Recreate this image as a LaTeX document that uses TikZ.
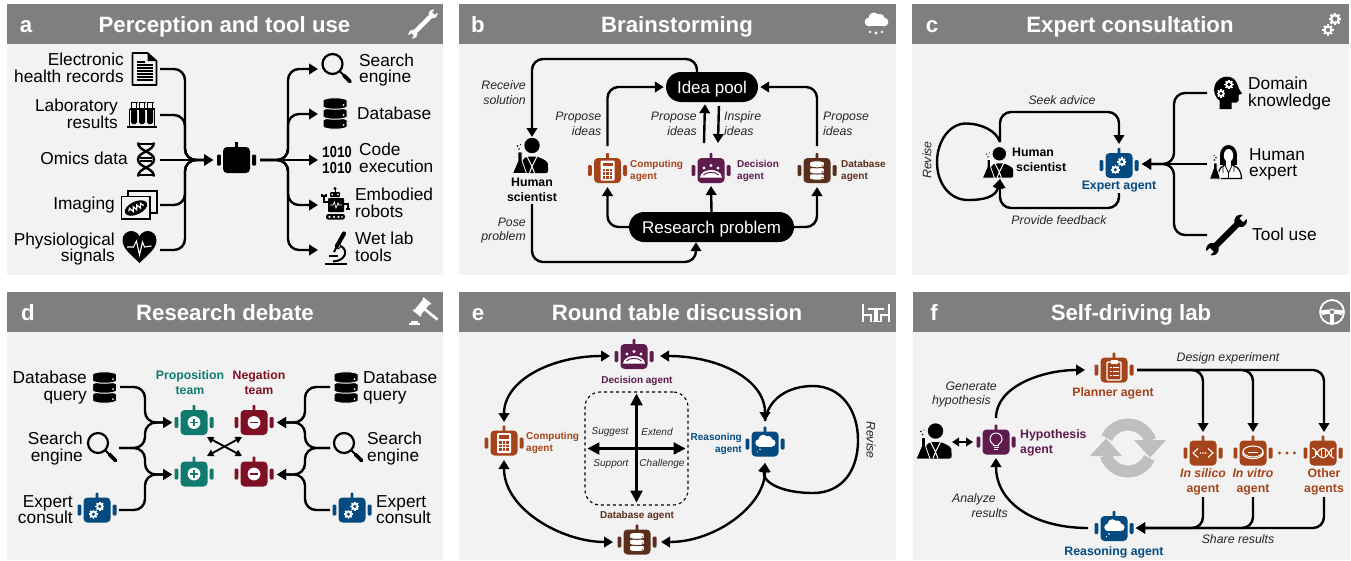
\documentclass[tikz,border=0pt]{standalone}
\usepackage{fontspec}
\setmainfont{Liberation Sans}
\newfontfamily\monof{Liberation Mono}
\usetikzlibrary{arrows.meta,calc}
\definecolor{hdr}{HTML}{7F7F7F}
\definecolor{pan}{HTML}{F2F2F2}
\definecolor{cOr}{HTML}{A5431A}
\definecolor{cPu}{HTML}{5F1A4E}
\definecolor{cBr}{HTML}{5A2E1C}
\definecolor{cBl}{HTML}{024A7F}
\definecolor{cTe}{HTML}{107A6E}
\definecolor{cRe}{HTML}{7F0F22}
\definecolor{cyc}{HTML}{BFBFBF}
\tikzset{
 hitbox/.style={inner sep=0pt,outer sep=0pt},
 ttl/.style={text=white,font=\fontsize{22.2}{24}\bfseries\selectfont,inner sep=0pt,text height=17pt,text depth=1pt},
 lab/.style={font=\fontsize{17.3}{16.5}\selectfont,inner sep=0pt,yshift=-1pt},
 ita/.style={font=\fontsize{12.3}{14.8}\itshape\selectfont,inner sep=0pt,text=black!85},
 itb/.style={font=\fontsize{10}{12}\itshape\selectfont,inner sep=0pt,text=black!85},
 blg/.style={font=\fontsize{12.3}{15}\bfseries\selectfont,inner sep=0pt},
 bls/.style={font=\fontsize{10}{12}\bfseries\selectfont,inner sep=0pt},
 pill/.style={fill=black,text=white,rounded corners=15pt,inner sep=0pt,minimum height=30pt,font=\fontsize{17}{18}\selectfont,text height=14.5pt,text depth=2.5pt},
 line/.style={line width=2.4pt,rounded corners=11pt},
 conn/.style={line,-{Triangle[length=9pt,width=10.5pt]}},
 duo/.style={line,sharp corners,{Triangle[length=9pt,width=10.5pt]}-{Triangle[length=9pt,width=10.5pt]}},
 small/.style={line width=1.9pt,{Triangle[length=6.5pt,width=7pt]}-{Triangle[length=6.5pt,width=7pt]}},
 big/.style={line width=2.3pt,{Triangle[length=12pt,width=12pt]}-{Triangle[length=12pt,width=12pt]}},
}
\newcommand\hit[5]{\pgfmathsetmacro\hx{(#2+#4)/2}\pgfmathsetmacro\hy{(#3+#5)/2}\pgfmathsetmacro\hw{#4-#2}\pgfmathsetmacro\hh{#5-#3}\node[hitbox,minimum width=\hw pt,minimum height=\hh pt] (#1) at (\hx,\hy) {};}
\newcommand\Gear[4]{\begin{scope}[shift={(#1)},y=1pt]
 \foreach \a in {0,45,...,315}{\fill[#3,rotate=\a] (-#2*.22,0) rectangle (#2*.22,#2*1.22);}
 \fill[#3] (0,0) circle (#2); \fill[#4] (0,0) circle (#2*.48);
\end{scope}}
\newcommand\IcDB[4]{\begin{scope}[shift={(#1)},y=1pt,scale=#2]
 \foreach \y in {-10,0,10}{
 \filldraw[fill=#3,draw=#4,line width=1pt] (-12,\y+3.5) -- (-12,\y-3.5) .. controls (-8,\y-6.5) and (8,\y-6.5) .. (12,\y-3.5) -- (12,\y+3.5) .. controls (8,\y+6.5) and (-8,\y+6.5) .. (-12,\y+3.5) -- cycle;
 \fill[#4] (8.5,\y-1.5) circle (1);}
\end{scope}}
\newcommand\IcMag[2]{\begin{scope}[shift={(#1)},y=1pt,scale=#2]
 \draw[line width=2.2pt] (-4.5,4.5) circle (10);
 \draw[line width=1.8pt] (2.5,-2.5) -- (7,-7);
 \draw[line width=3.6pt,line cap=round] (7,-7) -- (13,-13);
\end{scope}}
\newcommand\IcMan[2]{\begin{scope}[shift={(#1)},y=1pt,scale=#2]
 \fill (1.5,10) circle (7.7);
 \fill[rounded corners=2pt] (-9,-17.5) -- (-9,-7) .. controls (-7,-3) and (-4,-1.5) .. (-3,-1) -- (6,-1) .. controls (9,-2) and (17,-5) .. (17.5,-10) -- (17.5,-17.5) -- cycle;
 \draw[white,line width=1pt] (-3.5,-1) -- (1.5,-11) -- (6.5,-1) (1.5,-11) -- (-1,-17.5) (1.5,-11) -- (4,-17.5);
 \filldraw[fill=black,draw=white,line width=.8pt,line join=round] (-18,-17.9) -- (-4,-17.9) -- (-8.5,-5) -- (-8.5,3.5) -- (-12.5,3.5) -- (-12.5,-5) -- cycle;
 \fill (-11.5,6.5) circle (.9) (-13,9.5) circle (.8) (-10,11) circle (.7);
\end{scope}}
\newcommand\IcWrench[4]{\begin{scope}[shift={(#1)},y=1pt,scale=#2,rotate=45]
 \fill[#3] (-18,-3.2) rectangle (18,3.2);
 \fill[#3] (-21,0) circle (6.6) (21,0) circle (6.6);
 \fill[#4] (-29,-2.8) rectangle (-22,2.8);
 \fill[#4] (22,-2.8) rectangle (29,2.8);
\end{scope}}
\newcommand\CloudS[3]{\begin{scope}[shift={(#1)},y=1pt,scale=#2]
 \fill[#3] (-7,-1) circle (4.4) (-2,3) circle (5.6) (4,2.5) circle (4.6) (8,-1) circle (4.4);
 \fill[#3] (-7,-5.4) rectangle (8,1);
\end{scope}}
\newcommand\Bot[3]{\begin{scope}[shift={(#1)},y=1pt]
 \colorlet{bc}{#2}
 \fill[bc,rounded corners=4pt] (-13.5,-12.5) rectangle (13.5,12.5);
 \fill[bc,rounded corners=.8pt] (-1.4,11) rectangle (1.4,17.5);
 \fill[bc,rounded corners=1.2pt] (-19.5,-5.5) rectangle (-15.7,5.5);
 \fill[bc,rounded corners=1.2pt] (15.7,-5.5) rectangle (19.5,5.5);
 #3
\end{scope}}
\newcommand\InCalc{\fill[white,rounded corners=1pt] (-7,-10) rectangle (7,10);\fill[bc] (-5,4.5) rectangle (5,8);
 \foreach \i in {0,1,2}{\foreach \j in {0,1,2}{\fill[bc] (-5+\i*3.6,-8+\j*3.6) rectangle +(2.6,2.6);}}}
\newcommand\InTable{\fill[white] (-7,2.5) circle (1.7) (0,5) circle (1.7) (7,2.5) circle (1.7);
 \fill[white] (-11,-7) .. controls (-10,3) and (10,3) .. (11,-7) -- cycle;
 \draw[bc,line width=1pt] (-7.5,-4.5) .. controls (-5,-1) and (5,-1) .. (7.5,-4.5);}
\newcommand\InDB{\IcDB{0,0}{.62}{white}{bc}}
\newcommand\InGears{\Gear{2.8,3.6}{3.7}{white}{bc}\Gear{-3.6,-4.2}{3.7}{white}{bc}}
\newcommand\InPlus{\fill[white] (0,0) circle (6.4);\draw[bc,line width=1.2pt] (-3.6,0) -- (3.6,0) (0,-3.6) -- (0,3.6);}
\newcommand\InMinus{\fill[white] (0,0) circle (6.4);\draw[bc,line width=1.2pt] (-3.6,0) -- (3.6,0);}
\newcommand\InCloud{\CloudS{0,2}{.85}{white}\fill[white] (-5,-5.5) circle (.9) (-7.5,-8) circle (.6);}
\newcommand\InBulb{\draw[white,line width=1pt] (-2.5,-3.6) -- (-2.5,-2.44) arc[start angle=245,end angle=-65,radius=6] -- (2.5,-3.6) -- cycle;
 \draw[white,line width=1pt] (-2.5,-5.6) -- (2.5,-5.6) (-1.8,-7.4) -- (1.8,-7.4);}
\newcommand\InClip{\draw[white,line width=1.1pt,rounded corners=1pt] (-7,-10) rectangle (7,8);\fill[white] (-3.5,6) rectangle (3.5,10);
 \draw[white,line width=.8pt] (-4.5,3) -- (-2.5,3) (-1,3) -- (4.5,3) (-4.5,-1) -- (-2.5,-1) (-1,-1) -- (4.5,-1) (-4.5,-5) -- (-2.5,-5) (-1,-5) -- (4.5,-5);}
\newcommand\InCode{\draw[white,line width=1.1pt] (-5,4.5) -- (-10,0) -- (-5,-4.5) (5,4.5) -- (10,0) -- (5,-4.5);\fill[white] (-2.6,0) circle (.9) (0,0) circle (.9) (2.6,0) circle (.9);}
\newcommand\InDish{\draw[white,line width=1.1pt] (0,1.5) ellipse (10 and 5.5);\draw[white,line width=1.1pt] (-10,1.5) -- (-10,-1.5) .. controls (-7,-7) and (7,-7) .. (10,-1.5) -- (10,1.5);\draw[white,line width=.8pt] (-5,1) -- (5,1);}
\newcommand\InDNA{\draw[white,line width=1pt] (-11,-5) .. controls (-6,-5) and (-6,5) .. (0,5) .. controls (6,5) and (6,-5) .. (11,-5) (-11,5) .. controls (-6,5) and (-6,-5) .. (0,-5) .. controls (6,-5) and (6,5) .. (11,5);
 \draw[white,line width=.7pt] (-8,-3) -- (-8,3) (-6,-1.5) -- (-6,1.5) (-2,-4) -- (-2,4) (2,-4) -- (2,4) (6,-1.5) -- (6,1.5) (8,-3) -- (8,3);}
\newcommand\bdig{\scalebox{.8}[1]{{\monof\bfseries 1}\textbf{0}{\monof\bfseries 1}\textbf{0}}}
\begin{document}
\begin{tikzpicture}[x=1pt,y=-1pt]
\useasboundingbox (0,0) rectangle (1351,560);
\fill[white] (0,0) rectangle (1351,560);
% panels
\foreach \a/\b/\c/\d in {7/4/443/275,459/4/896/275,912/4/1349/275,7/292/443/560,459/292/896/560,913/292/1350/560}{
 \fill[pan] (\a,\b) rectangle (\c,\d);
 \fill[hdr] (\a,\b) rectangle (\c,\b+40);}
\node[ttl] (Ta) at (224.5,24) {Perception and tool use};
\node[ttl] (La) at (26,24) {a};
\node[ttl] (Tb) at (677,24) {Brainstorming};
\node[ttl] (Lb) at (478,24) {b};
\node[ttl] (Tc) at (1130,24) {Expert consultation};
\node[ttl] (Lc) at (932,24) {c};
\node[ttl] (Td) at (225,312) {Research debate};
\node[ttl] (Ld) at (28,312) {d};
\node[ttl] (Te) at (677,312) {Round table discussion};
\node[ttl] (Le) at (478,312) {e};
\node[ttl] (Tf) at (1131,312) {Self-driving lab};
\node[ttl] (Lf) at (934,312) {f};
% header icons
\IcWrench{423,24}{.68}{white}{hdr}
\CloudS{876,21}{1}{white}
\fill[white] (870,32) circle (1.3) (876,33) circle (1.6) (882,32) circle (1.3);
\Gear{1335,19}{5.2}{white}{hdr}\Gear{1328,30}{4.6}{white}{hdr}
\begin{scope}[shift={(423,312)},y=1pt]
 \fill[white] (-14,-13) rectangle (-3,-10.5);\fill[white] (-12,-10.5) rectangle (-5,-9);
 \begin{scope}[shift={(-1,5)},rotate=-39]
 \fill[white] (-4,-8) rectangle (4,8);
 \fill[white] (-5,-8.5) rectangle (5,-6.8);
 \fill[white] (-5,6.8) rectangle (5,8.5);
 \fill[white] (0,-1.3) rectangle (20,1.3);
 \end{scope}
\end{scope}
\begin{scope}[shift={(876,312)},y=1pt,white,line width=1.2pt]
 \draw (-13,8) -- (-13,-10) (-13,-3) -- (-5,-3) -- (-5,-10);
 \draw (13,8) -- (13,-10) (13,-3) -- (5,-3) -- (5,-10);
 \draw (-8,3) -- (8,3) (-1,3) -- (-1,-9.5) (1,3) -- (1,-9.5) (-3.5,-9.5) -- (3.5,-9.5);
\end{scope}
\begin{scope}[shift={(1332,312)},y=1pt,white]
 \draw[line width=1.8pt] (0,0) circle (12);
 \draw[line width=1.2pt] (0,0) circle (2.8);
 \fill (-11.5,1.5) -- (-3,2.5) -- (-2.5,-1.5) -- (-10,-3) -- cycle;
 \fill (11.5,1.5) -- (3,2.5) -- (2.5,-1.5) -- (10,-3) -- cycle;
 \fill (-1.8,-2.5) rectangle (1.8,-11.5);
\end{scope}

%%% PANEL A
\begin{scope}[shift={(144.5,69)},y=1pt]
 \draw[line width=1.7pt,line join=round] (-12,16) -- (3,16) -- (12,8) -- (12,-16) -- (-12,-16) -- cycle;
 \fill (3,16) -- (3,8) -- (12,8) -- cycle;
 \draw[line width=1.1pt] (-8,4) -- (8,4) (-8,1) -- (8,1) (-8,-2) -- (8,-2) (-8,-5) -- (8,-5) (-8,-8) -- (8,-8) (-8,-11) -- (8,-11);
 \draw[line width=1.1pt] (-8,7) -- (0,7);
\end{scope}
\begin{scope}[shift={(142,115)},y=1pt]
 \draw[line width=1.6pt] (-15,-12) -- (15,-12) (-12.5,-12) -- (-12.5,6) (12.5,-12) -- (12.5,6) (-12.5,6) -- (12.5,6);
 \foreach \x in {-8,0,8}{
 \fill[rounded corners=1.6pt] (\x-3,6) rectangle (\x+3,-9);
 \fill (\x-3,6) rectangle (\x+3,3);
 \draw[line width=1pt] (\x-2.8,12.5) -- (\x-2.8,6) (\x+2.8,12.5) -- (\x+2.8,6) (\x-3.5,12.5) -- (\x+3.5,12.5);}
\end{scope}
\begin{scope}[shift={(146,159.5)},y=1pt,line width=2.4pt]
 \draw (-8,17) .. controls (-8,8) and (8,8) .. (8,0) .. controls (8,-8) and (-8,-8) .. (-8,-17);
 \draw (8,17) .. controls (8,8) and (-8,8) .. (-8,0) .. controls (-8,-8) and (8,-8) .. (8,-17);
 \draw[line width=1.6pt] (-7,15.5) -- (7,15.5) (-7,-15.5) -- (7,-15.5) (-6,1.5) -- (6,1.5) (-6,-1.5) -- (6,-1.5);
\end{scope}
\begin{scope}[shift={(139,205)},y=1pt]
 \draw[line width=1.5pt] (-11,-8) rectangle (18,14);
 \filldraw[fill=pan,draw=black,line width=1.5pt] (-17.5,-14) rectangle (11,8.5);
 \fill[rotate around={25:(-3,-3)}] (-3,-3) ellipse (12 and 6.5);
 \draw[white,line width=1.2pt,rotate around={25:(-3,-3)}] (-11,-3) -- (-9,-.5) -- (-7,-5) -- (-5,-.5) -- (-3,-5) -- (-1,-.5) -- (1,-5) -- (3,-.5) -- (5,-4);
\end{scope}
\begin{scope}[shift={(139.5,247)},y=1pt]
 \fill (0,-16) .. controls (-8,-8) and (-17,-2) .. (-17,7) .. controls (-17,13) and (-12,16) .. (-8.5,16) .. controls (-4,16) and (-1,13) .. (0,10.5) .. controls (1,13) and (4,16) .. (8.5,16) .. controls (12,16) and (17,13) .. (17,7) .. controls (17,-2) and (8,-8) .. (0,-16) -- cycle;
 \draw[white,line width=1.1pt] (-12.5,0) -- (-6,0) -- (-3,6) -- (0,-8) -- (3,5) -- (5,0) -- (12,1);
\end{scope}
\begin{scope}[shift={(236.5,160)},y=1pt]
 \fill[rounded corners=4pt] (-13.5,-13) rectangle (13.5,13);
 \fill (-1.3,10) rectangle (1.3,18);
 \fill[rounded corners=1pt] (-19.5,-5.5) rectangle (-15.7,5.5);
 \fill[rounded corners=1pt] (15.7,-5.5) rectangle (19.5,5.5);
\end{scope}
\IcMag{337,68.5}{1}
\IcDB{335,113.5}{1}{black}{pan}
\node[inner sep=0pt,font=\fontsize{16}{16}\selectfont,align=center] (n1010) at (337,159.5) {\bdig\\\bdig};
\begin{scope}[shift={(335,204)},y=1pt]
 \fill (0,15.5) circle (1.7);\draw[line width=1pt] (0,15) -- (0,11);
 \fill[rounded corners=1pt] (-5,7) rectangle (5,12);
 \fill[pan] (-3,9.5) circle (1) (3,9.5) circle (1);
 \fill[rounded corners=1pt] (-7,-8) rectangle (9,6);
 \draw[white,line width=.7pt] (-5,-1) -- (-2,-1) -- (-.5,2) -- (1,-4) -- (3,1) -- (4,-1) -- (7,-1);
 \draw[line width=1.2pt] (-7,2) -- (-11,2) -- (-11,8) (-13,10) -- (-13,8) -- (-9,8) -- (-9,10);
 \draw[line width=1.2pt] (9,0) -- (13,0) -- (13,-4) (11,-5) -- (15,-5);
 \fill[rounded corners=2.4pt] (-9,-15.5) rectangle (10,-10);
 \fill[pan] (-5.5,-12.8) circle (1.2) (-1,-12.8) circle (1.2) (3.5,-12.8) circle (1.2) (7,-12.8) circle (1);
\end{scope}
\begin{scope}[shift={(336,248)},y=1pt]
 \draw[line width=2pt] (-11,-15.5) -- (11,-15.5);
 \draw[line width=2pt] (5,2) .. controls (13,-3) and (9,-13) .. (-3,-13.5);
 \draw[line width=1.6pt] (-7,-8) -- (2,-8);
 \draw[line width=4.2pt,line cap=round] (1,2) -- (8,14.5);
 \draw[line width=2pt] (-2,-4) -- (1,2);
 \fill[white] (4.4,2.6) circle (1);
 \draw[line width=1pt] (2,2) circle (2.6);
\end{scope}
\node[lab,align=right,anchor=east] (ta1) at (124,67) {Electronic\\health records};
\node[lab,align=right,anchor=east] (ta2) at (118,113) {Laboratory\\results};
\node[lab,anchor=east] (ta3) at (128,157) {Omics data};
\node[lab,anchor=east] (ta4) at (115,204) {Imaging};
\node[lab,align=right,anchor=east] (ta5) at (115,248) {Physiological\\signals};
\node[lab,align=left,anchor=west] (ta6) at (359,69) {Search\\engine};
\node[lab,anchor=west] (ta7) at (357,112) {Database};
\node[lab,align=left,anchor=west] (ta8) at (359,157) {Code\\execution};
\node[lab,align=left,anchor=west] (ta9) at (355,202) {Embodied\\robots};
\node[lab,align=left,anchor=west] (ta10) at (355,246) {Wet lab\\tools};
\hit{ehr}{130}{53}{160}{85}
\hit{labr}{127}{100}{160}{130}
\hit{omi}{130}{145}{160}{175}
\hit{img}{120}{190}{160}{220}
\hit{hea}{122}{235}{160}{265}
\hit{botA}{213}{150}{260}{170}
\hit{sea}{318}{54}{355}{84}
\hit{dbA}{318}{99}{350}{129}
\hit{cod}{318}{150}{355}{170}
\hit{emb}{318}{190}{350}{220}
\hit{mic}{318}{235}{350}{265}
\coordinate (hubL) at (185,160);
\coordinate (hubR) at (288,160);
\draw[conn] (ehr.east) -| (hubL) -- (botA.west);
\draw[conn] (labr.east) -| (hubL) -- (botA.west);
\draw[conn] (omi.east) -- (botA.west);
\draw[conn] (img.east) -| (hubL) -- (botA.west);
\draw[conn] (hea.east) -| (hubL) -- (botA.west);
\draw[conn] (botA.east) -- (cod.west);
\draw[conn] (botA.east) -- (hubR) |- (sea.west);
\draw[conn] (botA.east) -- (hubR) |- (dbA.west);
\draw[conn] (botA.east) -- (hubR) |- (emb.west);
\draw[conn] (botA.east) -- (hubR) |- (mic.west);

%%% PANEL B
\node[pill,minimum width=92pt] (pool) at (712,87) {Idea pool};
\node[pill,minimum width=165pt] (res) at (711.5,227) {Research problem};
\IcMan{530.5,155.5}{1}
\node[blg,align=center] (hsb) at (532,189.5) {Human\\scientist};
\Bot{607.5,170.5}{cOr}{\InCalc}
\Bot{711,170.5}{cPu}{\InTable}
\Bot{817,170.5}{cBr}{\InDB}
\node[bls,text=cOr,align=left,anchor=west] (tb1) at (630,171) {Computing\\agent};
\node[bls,text=cPu,align=left,anchor=west] (tb2) at (737,171) {Decision\\agent};
\node[bls,text=cBr,align=left,anchor=west] (tb3) at (841,171) {Database\\agent};
\node[ita,align=right,anchor=east] (tb4) at (526,92.5) {Receive\\solution};
\node[ita,align=right,anchor=east] (tb5) at (526,230.5) {Pose\\problem};
\node[ita,align=right,anchor=east] (tb6) at (601.5,123.5) {Propose\\ideas};
\node[ita,align=right,anchor=east] (tb7) at (697,123.5) {Propose\\ideas};
\node[ita,align=left,anchor=west] (tb8) at (724,123.5) {Inspire\\ideas};
\node[ita,align=left,anchor=west] (tb9) at (823,123.5) {Propose\\ideas};
\hit{hum}{512}{137}{552}{204}
\hit{cb}{584}{146}{631}{187}
\hit{dcb}{688}{143}{734}{186}
\hit{dbb}{794}{146}{840}{187}
\coordinate (tpb) at (620,59);
\coordinate (btb) at (620,262);
\draw[conn] ([xshift=-15pt]pool.north) |- (tpb) -| (hum.north);
\draw[conn] (hum.south) |- (btb) -| ([xshift=-15.5pt]res.south);
\draw[conn,shorten >=2pt] (cb.north) |- (pool.west);
\draw[conn] (res.west) -| (cb.south);
\draw[conn,shorten >=2pt] ([xshift=-7pt]dcb.north) -- ([xshift=-7pt]pool.south);
\draw[conn,shorten <=4pt] ([xshift=7pt]pool.south) -- ([xshift=7pt]dcb.north);
\draw[conn] (res.north) -- (dcb.south);
\draw[conn,shorten >=2pt] (dbb.north) |- (pool.east);
\draw[conn] (res.east) -| (dbb.south);

%%% PANEL C
\IcMan{998,162.5}{.87}
\node[blg,align=left,anchor=west] (tc1) at (1012,160) {Human\\\hspace*{4pt}scientist};
\Bot{1119,165.5}{cBl}{\InGears}
\node[blg,text=cBl] (tc2) at (1119,187) {Expert agent};
\node[ita] (tc3) at (1062,100) {Seek advice};
\node[ita] (tc4) at (1059,220) {Provide feedback};
\node[ita,rotate=90] (tc5) at (927,160) {Revise};
\node[lab,align=left,anchor=west] (tc6) at (1248,92.5) {Domain\\knowledge};
\node[lab,align=left,anchor=west] (tc7) at (1249,163.5) {Human\\expert};
\node[lab,anchor=west] (tc8) at (1252,233) {Tool use};
\begin{scope}[shift={(1227.5,92.5)},y=1pt]
 \fill (-8,-16.5) -- (-8,-8) .. controls (-15,-3) and (-15,8) .. (-9,12.5) .. controls (-4,17.5) and (7,17.5) .. (10,8) .. controls (11,5) and (11,4) .. (14.5,-1) -- (11,-2.5) -- (11,-8) .. controls (11,-10) and (9,-10.5) .. (4,-10) -- (4,-16.5) -- cycle;
\end{scope}
\Gear{1229,84.5}{3.9}{white}{black}
\Gear{1221,93.5}{3.5}{white}{black}
\begin{scope}[shift={(1226,162)},y=1pt]
 \fill (2.5,7) ellipse (8.5 and 10);
 \fill (-6,7) rectangle (11,-3);
 \filldraw[fill=white,draw=black,line width=1.2pt] (-8,-16.5) .. controls (-8,-6) and (-4,-3) .. (2.5,-2) .. controls (9,-3) and (15,-6) .. (15.5,-16.5) -- cycle;
 \fill[white] (2.5,6.5) ellipse (4.7 and 6.5);
 \fill[white] (0,3) rectangle (5,-2.5);
 \draw[line width=.8pt] (-1.5,-2.5) -- (2.5,-11) -- (6.5,-2.5) (2.5,-11) -- (2.5,-16.5) (-3,-4) -- (-3,-11) (8,-4) -- (8,-10);
 \filldraw[fill=black,draw=white,line width=.8pt,line join=round] (-16.5,-17) -- (-5.5,-17) -- (-9,-6) -- (-9,-1) -- (-12.5,-1) -- (-12.5,-6) -- cycle;
 \fill (-11.5,2) circle (.8) (-10,4.5) circle (.8) (-12,6.5) circle (.6);
\end{scope}
\IcWrench{1226.5,235}{.95}{black}{pan}
\hit{hmc}{980}{142}{1020}{179}
\hit{ea}{1096}{144}{1142}{184}
\hit{hkn}{1207}{76}{1245}{110}
\hit{hex}{1207}{147}{1245}{181}
\hit{too}{1207}{218}{1245}{252}
\coordinate (skc) at (1060,112);
\coordinate (fbc) at (1060,208);
\coordinate (hubC) at (1174,164);
\coordinate (rvT) at (966,123.5);
\coordinate (rvL) at (937,162);
\coordinate (rvB) at (968,200);
\draw[conn] (hmc.north) |- (skc) -| (ea.north);
\draw[conn] ([yshift=-9pt]ea.south) |- (fbc) -| (hmc.south);
\draw[conn,sharp corners] (hmc.north) .. controls +(-4,-12) and +(14,0) .. (rvT) .. controls +(-17,0) and +(0,-20) .. (rvL) .. controls +(0,22) and +(-18,0) .. (rvB) .. controls +(16,0) and +(-4,18) .. (hmc.south);
\draw[conn] (hkn.west) -| (hubC) -- (ea.east);
\draw[conn] (hex.west) -- (ea.east);
\draw[conn] (too.west) -| (hubC) -- (ea.east);

%%% PANEL D
\IcDB{104.5,387.5}{1}{black}{pan}
\IcMag{102.5,447.5}{1}
\Bot{97,510}{cBl}{\InGears}
\Bot{194,422.5}{cTe}{\InPlus}
\Bot{194,474}{cTe}{\InPlus}
\Bot{254,422.5}{cRe}{\InMinus}
\Bot{254,474}{cRe}{\InMinus}
\IcDB{346,387.5}{1}{black}{pan}
\IcMag{348.5,447.5}{1}
\Bot{352,510}{cBl}{\InGears}
\node[lab,align=right,anchor=east] (td1) at (87,386.5) {Database\\query};
\node[lab,align=right,anchor=east] (td2) at (83,447.5) {Search\\engine};
\node[lab,align=right,anchor=east] (td3) at (73,508.5) {Expert\\consult};
\node[lab,align=left,anchor=west] (td4) at (363,386.5) {Database\\query};
\node[lab,align=left,anchor=west] (td5) at (367,447.5) {Search\\engine};
\node[lab,align=left,anchor=west] (td6) at (376,508.5) {Expert\\consult};
\node[blg,text=cTe,align=center] (td7) at (190,382.5) {Proposition\\team};
\node[blg,text=cRe,align=center] (td8) at (259,382.5) {Negation\\team};
\hit{ldb}{93}{372}{120}{402}
\hit{lse}{88}{433}{119}{463}
\hit{lex}{78}{495}{119}{525}
\hit{pA}{172}{405}{216}{440}
\hit{pB}{172}{457}{216}{492}
\hit{nA}{233}{405}{277}{440}
\hit{nB}{233}{457}{277}{492}
\hit{rdb}{330}{372}{362}{402}
\hit{rse}{330}{433}{365}{463}
\hit{rex}{330}{495}{365}{525}
\coordinate (hL) at (145,448);
\coordinate (hL1) at (145,422.5);
\coordinate (hL2) at (145,474.5);
\coordinate (hR) at (305,448);
\coordinate (hR1) at (305,422.5);
\coordinate (hR2) at (305,474.5);
\draw[conn] (ldb.east) -| (hL1) -- (pA.west);
\draw[conn] (lse.east) -- (hL) |- (pA.west);
\draw[conn] (lse.east) -- (hL) |- (pB.west);
\draw[conn] (lex.east) -| (hL2) -- (pB.west);
\draw[conn] (rdb.west) -| (hR1) -- (nA.east);
\draw[conn] (rse.west) -- (hR) |- (nA.east);
\draw[conn] (rse.west) -- (hR) |- (nB.east);
\draw[conn] (rex.west) -| (hR2) -- (nB.east);
\coordinate (xa) at (207,437);
\coordinate (xb) at (242,456);
\coordinate (xc) at (207,456);
\coordinate (xd) at (242,437);
\draw[small] (xa) -- (xb);
\draw[small] (xc) -- (xd);

%%% PANEL E
\Bot{634,356.5}{cPu}{\InTable}
\Bot{504,443}{cOr}{\InCalc}
\Bot{765,444}{cBl}{\InCloud}
\Bot{637,542}{cBr}{\InDB}
\node[bls,text=cPu] (te1) at (637,381) {Decision agent};
\node[bls,text=cBr] (te2) at (637,516) {Database agent};
\node[bls,text=cOr,align=left,anchor=west] (te3) at (526,443) {Computing\\agent};
\node[bls,text=cBl,align=right,anchor=east] (te4) at (742,444) {Reasoning\\agent};
\node[itb] (te5) at (610,432) {Suggest};
\node[itb] (te6) at (657,432) {Extend};
\node[itb] (te7) at (611,464) {Support};
\node[itb] (te8) at (662,464) {Challenge};
\node[ita,rotate=-90] (te9) at (871,440) {Revise};
\node[draw=black,dashed,line width=1.1pt,rounded corners=15pt,minimum width=103pt,minimum height=113pt,inner sep=0pt] (tb) at (636.5,448.5) {};
\hit{dee}{610}{346}{660}{366}
\hit{coe}{480}{422}{528}{460}
\hit{ree}{741}{421}{789}{463}
\hit{dbe}{613}{532}{661}{552}
\draw[big,shorten <=2pt,shorten >=3pt] (tb.north) -- (tb.south);
\draw[big,shorten <=3pt,shorten >=3pt] (tb.west) -- (tb.east);
\draw[duo] (dee.west) .. controls +(-58,0) and +(0,-42) .. (coe.north);
\draw[duo] (dee.east) .. controls +(58,0) and +(0,-42) .. (ree.north);
\draw[duo] (coe.south) .. controls +(0,50) and +(-50,0) .. (dbe.west);
\draw[duo] (dbe.east) .. controls +(55,0) and +(0,42) .. (ree.south);
\coordinate (rt) at (813,386);
\coordinate (rr) at (858,440);
\coordinate (rb) at (813,493);
\draw[conn,sharp corners] (ree.north) .. controls +(3,-22) and +(-25,0) .. (rt) .. controls +(28,0) and +(0,-30) .. (rr) .. controls +(0,32) and +(28,0) .. (rb) .. controls +(-30,0) and +(-3,20) .. (ree.south);

%%% PANEL F
\IcMan{934,441}{1}
\Bot{996,442}{cPu}{\InBulb}
\Bot{1114,370}{cOr}{\InClip}
\Bot{1203,453}{cOr}{\InCode}
\Bot{1253,453}{cOr}{\InDish}
\Bot{1323,453}{cOr}{\InDNA}
\Bot{1114,528.5}{cBl}{\InCloud}
\fill[cOr] (1279.5,453) circle (1.6) (1287,453) circle (1.6) (1294.5,453) circle (1.6);
\begin{scope}[shift={(1128,448)},y=1pt,cyc]
 \foreach \r in {0,180}{\begin{scope}[rotate=\r]
 \draw[line width=12pt] (155:23.5) arc[start angle=155,end angle=18,radius=23.5];
 \fill (6,8) -- (38,8) -- (22,-9.5) -- cycle;
 \end{scope}}
\end{scope}
\node[blg,text=cPu,align=left,anchor=west] (tf1) at (1020,442.5) {Hypothesis\\agent};
\node[blg,text=cOr] (tf2) at (1113,393) {Planner agent};
\node[blg,text=cBl] (tf3) at (1114,552) {Reasoning agent};
\node[blg,text=cOr,align=center] (tf4) at (1203,481.5) {\textit{In silico}\\agent};
\node[blg,text=cOr,align=center] (tf5) at (1253,481.5) {\textit{In vitro}\\agent};
\node[blg,text=cOr,align=center] (tf6) at (1324,481.5) {Other\\agents};
\node[ita] (tf7) at (1228,358) {Design experiment};
\node[ita] (tf8) at (1238,539) {Share results};
\node[ita,align=right,anchor=east] (tf9) at (997,394.5) {Generate\\hypothesis\hspace*{6pt}};
\node[ita,align=right,anchor=east] (tf10) at (1008,505.5) {Analyze\hspace*{12pt}\\results};
\hit{hmf}{917}{424}{952}{460}
\hit{hyp}{973}{418}{1019}{458}
\hit{pl}{1085}{360}{1137}{380}
\hit{sl}{1180}{432}{1226}{497}
\hit{vi}{1230}{432}{1276}{497}
\hit{ot}{1301}{432}{1347}{497}
\hit{rf}{1088}{518}{1136}{538}
\draw[line width=2.4pt,{Triangle[length=7pt,width=8.5pt]}-{Triangle[length=7pt,width=8.5pt]}] (hmf.east) -- (hmf.east -| hyp.west);
\draw[conn,sharp corners] (hyp.north) .. controls +(0,-32) and +(-42,0) .. (pl.west);
\draw[conn] (pl.east) -| (sl.north);
\draw[conn] (pl.east) -| (vi.north);
\draw[conn] (pl.east) -| (ot.north);
\draw[conn] (sl.south) |- (rf.east);
\draw[conn] (vi.south) |- (rf.east);
\draw[conn] (ot.south) |- (rf.east);
\draw[conn,sharp corners] (rf.west) .. controls +(-52,0) and +(0,46) .. (hyp.south);
\end{tikzpicture}
\end{document}
